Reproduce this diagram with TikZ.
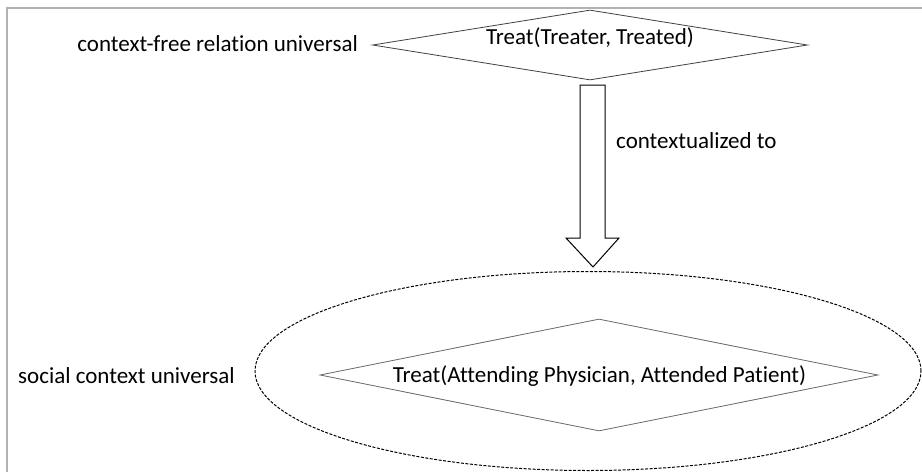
\documentclass[tikz,border=0pt]{standalone}
\usepackage{fontspec}
\setmainfont[Ligatures=NoCommon]{Carlito}
\usetikzlibrary{shapes.geometric}
\begin{document}
\begin{tikzpicture}[x=1pt,y=-1pt,
  rel/.style={diamond, draw=black!75, line width=0.8pt, inner sep=0pt},
  txt/.style={font=\fontsize{23}{26}\selectfont, inner sep=0pt},
  ctx/.style={ellipse, draw=black, dash pattern=on 3pt off 1.5pt, line width=1pt, inner sep=0pt}]
\useasboundingbox (0,0) rectangle (922,472);
\draw[black!30, line width=1.5pt] (922,8) -- (7,8) -- (7,472);
% top relation
\node[rel, minimum width=435pt, minimum height=70pt] (d1) at (590,45) {};
\node[txt] (t1) at (590,38) {Treat(Treater, Treated)};
\node[txt, anchor=east] (l1) at (358,44) {context-free relation universal};
% social context ellipse
\node[ctx, minimum width=666pt, minimum height=199pt] (e) at (588,371) {};
\node[rel, draw=black!60, minimum width=558pt, minimum height=112pt] (d2) at (599,375) {};
\node[txt] (t2) at (599.5,376) {Treat(Attending Physician, Attended Patient)};
\node[txt, anchor=east] (l2) at (235,376) {social context universal};
% block arrow
\coordinate (tip) at (593,267);
\draw[black, line width=1pt] (580,85) -- (605,85) -- (605,238) -- (619,238) -- (tip) -- (566,238) -- (580,238) -- cycle;
\node[txt, anchor=west] (lab) at (616,141) {contextualized to};
\end{tikzpicture}
\end{document}
